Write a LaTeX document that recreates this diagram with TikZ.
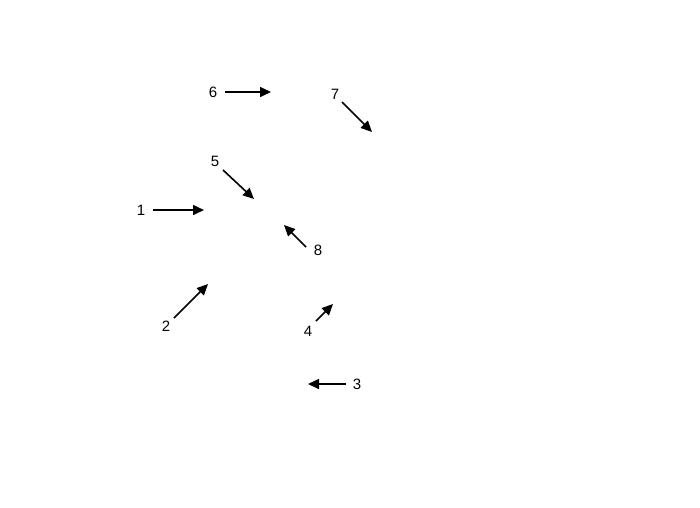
\documentclass[tikz,border=0pt]{standalone}
\usepackage{fontspec}
\setmainfont{Liberation Sans}
\usetikzlibrary{arrows.meta}
\tikzset{
  lbl/.style={inner sep=1pt, font=\fontsize{15}{17}\selectfont},
  vec/.style={-{Triangle[length=11pt,width=10pt]}, line width=1.6pt}
}
\begin{document}
\begin{tikzpicture}[x=1pt,y=-1pt]
\useasboundingbox (0,0) rectangle (700,507);
% Labels
\node[lbl] (l1) at (141,210) {1};
\node[lbl] (l2) at (166,326) {2};
\node[lbl] (l3) at (357,384) {3};
\node[lbl] (l4) at (308,331) {4};
\node[lbl] (l5) at (215,161) {5};
\node[lbl] (l6) at (213,92) {6};
\node[lbl] (l7) at (335,94) {7};
\node[lbl] (l8) at (318,250) {8};

% Arrow ends
\coordinate (a1s) at (153,210); \coordinate (a1e) at (204,210);
\coordinate (a2s) at (174,318); \coordinate (a2e) at (208,284);
\coordinate (a3s) at (346,384); \coordinate (a3e) at (308,384);
\coordinate (a4s) at (316,321); \coordinate (a4e) at (333,304);
\coordinate (a5s) at (223,170); \coordinate (a5e) at (254,199);
\coordinate (a6s) at (225,92);  \coordinate (a6e) at (271,92);
\coordinate (a7s) at (342,102); \coordinate (a7e) at (372,132);
\coordinate (a8s) at (306,247); \coordinate (a8e) at (284,225);

% Arrows
\draw[vec] (a1s) -- (a1e);
\draw[vec] (a2s) -- (a2e);
\draw[vec] (a3s) -- (a3e);
\draw[vec] (a4s) -- (a4e);
\draw[vec] (a5s) -- (a5e);
\draw[vec] (a6s) -- (a6e);
\draw[vec] (a7s) -- (a7e);
\draw[vec] (a8s) -- (a8e);
\end{tikzpicture}
\end{document}
